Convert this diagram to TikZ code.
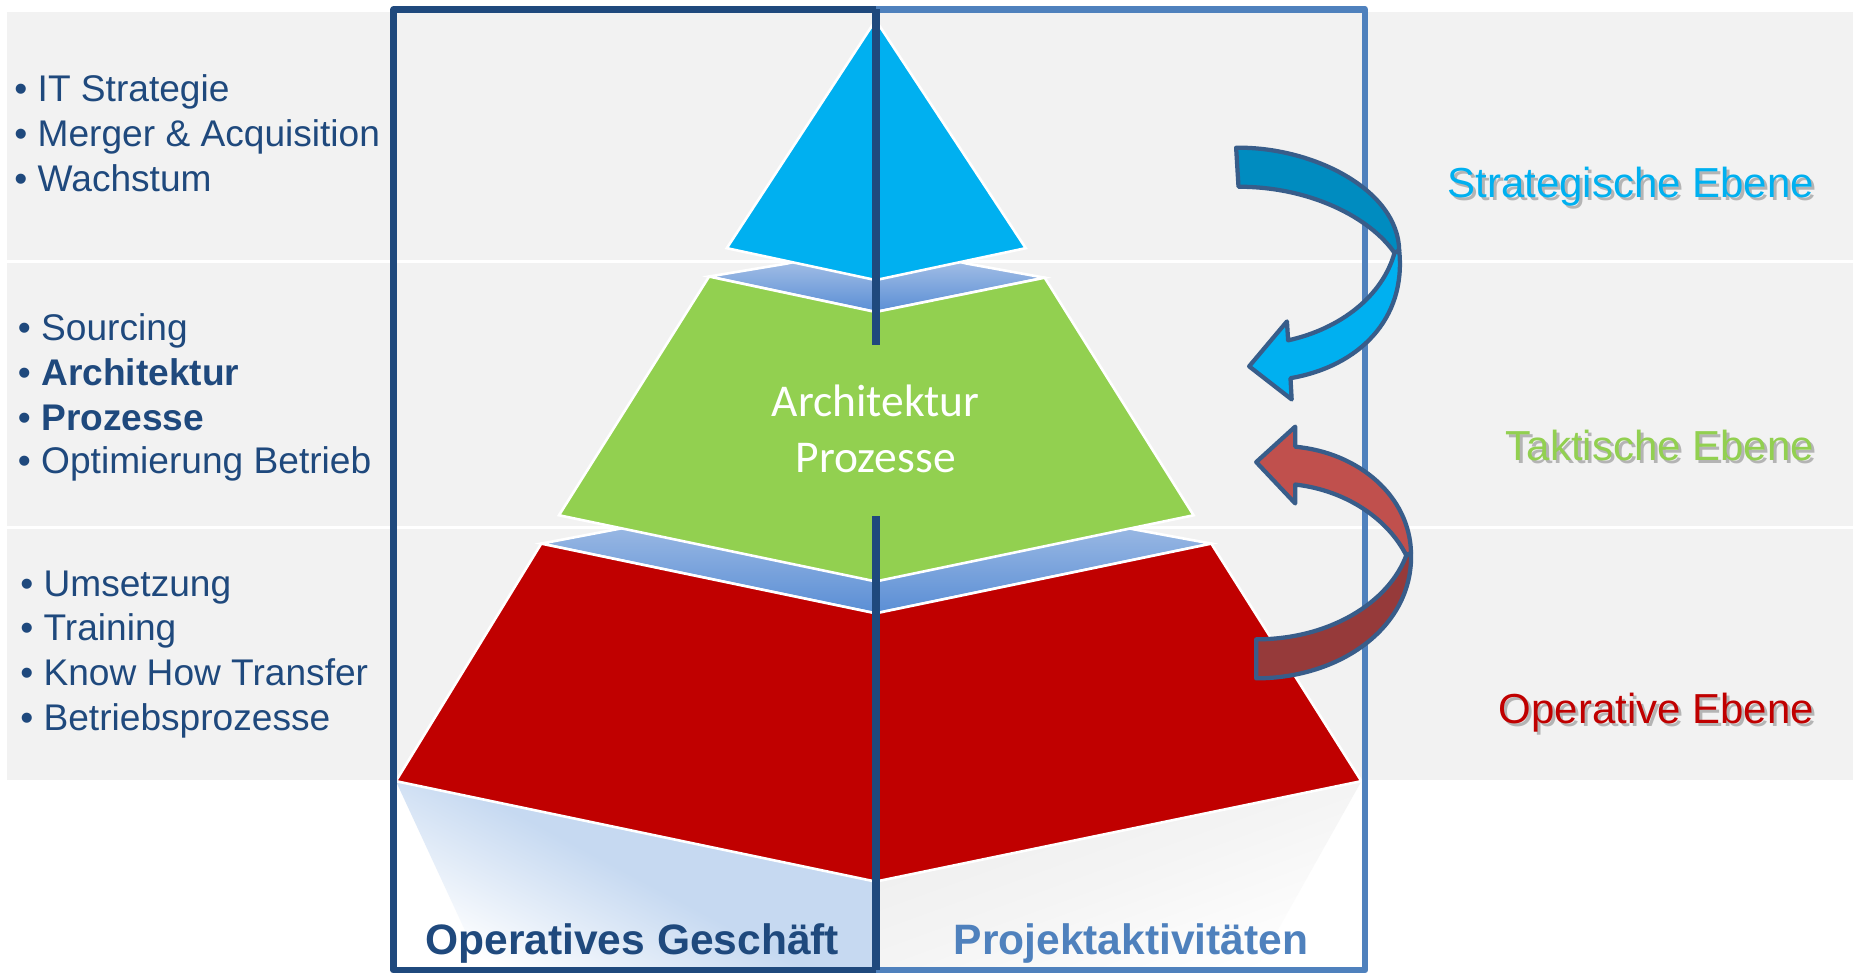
\documentclass[tikz,border=0pt]{standalone}
\usepackage{fontspec}
\setmainfont{Liberation Sans}
\newfontfamily\calib{Carlito}
\definecolor{bg}{HTML}{F2F2F2}
\definecolor{dblue}{HTML}{1F497D}
\definecolor{mblue}{HTML}{4F81BD}
\definecolor{cyanp}{HTML}{00B0F0}
\definecolor{cyand}{HTML}{008CC0}
\definecolor{greenp}{HTML}{92D050}
\definecolor{redp}{HTML}{C00000}
\definecolor{redl}{HTML}{C0504D}
\definecolor{redd}{HTML}{963A3A}
\definecolor{bandtop}{HTML}{BCCFEB}
\definecolor{bandbot}{HTML}{5A8ED5}
\definecolor{refl}{HTML}{C6D9F1}
\definecolor{refr}{HTML}{EDEDED}
\definecolor{arrline}{HTML}{385D8A}
\tikzset{
  layer/.style={draw=white, line width=2.2, line join=miter},
  band/.style={draw=white, line width=2.2, top color=bandtop, bottom color=bandbot},
  arrpiece/.style={draw=arrline, line width=3.6, line join=round},
  listtxt/.style={anchor=base west, inner sep=0, text=dblue, font=\fontsize{31.4}{38}\selectfont},
  lvltxt/.style={anchor=base east, inner sep=0, font=\fontsize{35.5}{40}\selectfont},
  lvlshadow/.style={anchor=base east, inner sep=0, font=\fontsize{35.5}{40}\selectfont, text=black!45, opacity=0.6},
  boxtxt/.style={anchor=base, inner sep=0, font=\fontsize{36}{40}\selectfont\bfseries},
  midtxt/.style={anchor=base, inner sep=0, text=white, font=\calib\fontsize{38.5}{46}\selectfont}
}
\begin{document}
\begin{tikzpicture}[x=1pt,y=-1pt]
\useasboundingbox (0,0) rectangle (1568,823);
\fill[white] (0,0) rectangle (1568,823);
% background bands
\fill[bg] (6,10) rectangle (1568,660);
\draw[white, line width=2.5] (6,221) -- (1568,221);
\draw[white, line width=2.5] (6,446) -- (1568,446);
% reflections
\shade[top color=refl, bottom color=white, middle color=refl, shading angle=-28]
  (335,661) -- (741,746) -- (741,823) -- (410,823) -- cycle;
\shade[top color=refr, bottom color=white, middle color=refr!60!white, shading angle=20]
  (741,746) -- (1152,661) -- (1061,823) -- (741,823) -- cycle;
% lower band + red layer
\path[band] (458,460) -- (521,448) -- (741,405) -- (960,448) -- (1025,460) -- (741,519) -- cycle;
\path[layer, fill=redp] (458,460) -- (741,519) -- (1025,460) -- (1152,661) -- (741,746) -- (335,661) -- cycle;
% upper band + green layer
\path[band] (600,234) -- (666,223) -- (741,205) -- (818,223) -- (884,235) -- (741,264) -- cycle;
\path[layer, fill=greenp] (600,234) -- (741,264) -- (884,235) -- (1010,436) -- (741,492) -- (473,436) -- cycle;
% top triangle
\path[layer, fill=cyanp] (741,17) -- (868,210) -- (741,237) -- (615,210) -- cycle;
% box
\draw[mblue, line width=5.5, line join=round] (741,8) -- (1155,8) -- (1155,821) -- (741,821);
\draw[dblue, line width=5.5, line join=round] (741,8) -- (333,8) -- (333,821) -- (741,821);
\draw[dblue, line width=7] (741,8) -- (741,292);
\draw[dblue, line width=7] (741,437) -- (741,821);
% blue curved arrow
\path[arrpiece, fill=cyand] (1046,125) .. controls (1110,124) and (1183,160) .. (1184,212)
  -- (1180,214) .. controls (1160,185) and (1110,158) .. (1048,158) -- cycle;
\path[arrpiece, fill=cyanp] (1184,212) .. controls (1190,270) and (1150,310) .. (1092,320)
  -- (1093,338) -- (1057,310) -- (1089,272) -- (1090,288)
  .. controls (1135,278) and (1170,250) .. (1180,214) -- cycle;
% red curved arrow
\path[arrpiece, fill=redl] (1096,378) .. controls (1150,383) and (1193,420) .. (1194,468)
  -- (1190,470) .. controls (1175,440) and (1140,415) .. (1096,410)
  -- (1096,426) -- (1063,391) -- (1096,361) -- cycle;
\path[arrpiece, fill=redd] (1194,468) .. controls (1196,530) and (1135,574) .. (1063,574)
  -- (1063,541) .. controls (1125,541) and (1175,510) .. (1190,470) -- cycle;
% left lists
\node[listtxt] (l1) at (12,86) {• IT Strategie};
\node[listtxt] (l2) at (12,124) {• Merger \& Acquisition};
\node[listtxt] (l3) at (12,162) {• Wachstum};
\node[listtxt] (m1) at (15,288) {• Sourcing};
\node[listtxt] (m2) at (15,326) {• \textbf{Architektur}};
\node[listtxt] (m3) at (15,364) {• \textbf{Prozesse}};
\node[listtxt] (m4) at (15,401) {• Optimierung Betrieb};
\node[listtxt] (b1) at (17,505) {• Umsetzung};
\node[listtxt] (b2) at (17,542) {• Training};
\node[listtxt] (b3) at (17,580) {• Know How Transfer};
\node[listtxt] (b4) at (17,618) {• Betriebsprozesse};
% level labels with shadow
\node[lvlshadow] (s1s) at (1537.5,169.5) {Strategische Ebene};
\node[lvltxt, text=cyanp] (s1) at (1535,167) {Strategische Ebene};
\node[lvlshadow] (s2s) at (1537.5,392.5) {Taktische Ebene};
\node[lvltxt, text=greenp] (s2) at (1535,390) {Taktische Ebene};
\node[lvlshadow] (s3s) at (1537.5,614.5) {Operative Ebene};
\node[lvltxt, text=redp] (s3) at (1535,612) {Operative Ebene};
% middle text
\node[midtxt] (mt1) at (741,352.5) {Architektur};
\node[midtxt] (mt2) at (741,400) {Prozesse};
% bottom labels
\node[boxtxt, text=dblue] (og) at (535,808) {Operatives Geschäft};
\node[boxtxt, text=mblue] (pa) at (957,808) {Projektaktivitäten};
\end{tikzpicture}
\end{document}
